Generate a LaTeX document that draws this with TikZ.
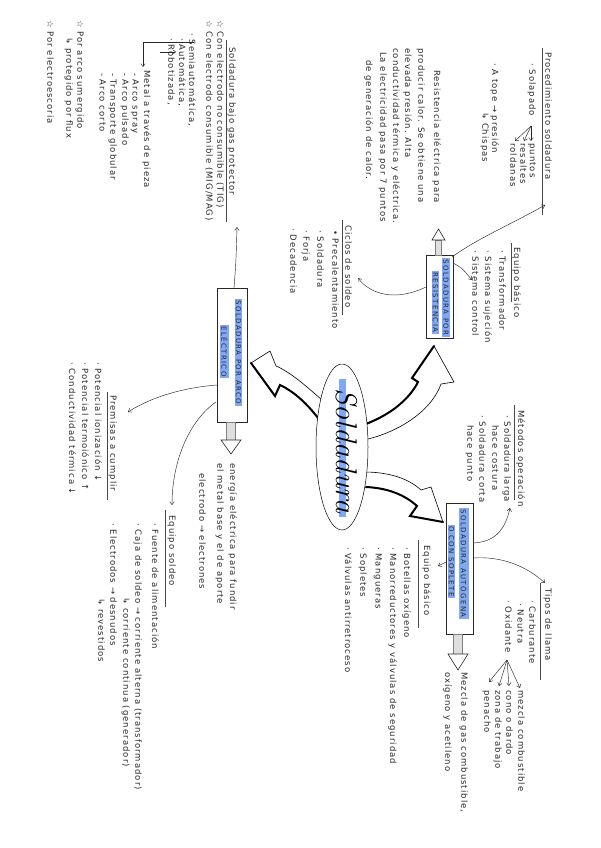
\documentclass[tikz,border=0pt]{standalone}
\usepackage{fontspec}
\newfontfamily\hand{DejaVu Sans}[LetterSpace=12]
\newfontfamily\boxfont{DejaVu Sans}[LetterSpace=20]
\usetikzlibrary{arrows.meta,shapes.geometric}
\definecolor{hl}{RGB}{128,168,245}
\definecolor{ink}{RGB}{40,40,40}
\begin{document}
\begin{tikzpicture}[x=1pt,y=-1pt,
  txt/.style={rotate=-90, anchor=north west, inner sep=0pt, align=left, text=ink, font=\hand\fontsize{8.5}{13.5}\selectfont},
  bx/.style={rotate=-90, inner sep=1.3pt, fill=hl, text=ink, font=\boxfont\fontsize{7}{8}\selectfont},
  boxframe/.style={draw=ink, line width=0.6pt, fill=white, inner sep=0pt},
  con/.style={draw=ink, line width=0.45pt, -{Straight Barb[length=3pt,width=4.5pt]}},
  ul/.style={draw=ink!85, line width=0.5pt},
  bigarrow/.style={draw=black, fill=white, line width=0.6pt, line join=miter},
  bigedge/.style={draw=black, line width=2pt, line join=miter, line cap=round},
  shaft/.style={draw=gray, fill=gray!25, line width=0.5pt},
  hollowhead/.style={draw=ink, fill=white, line width=0.6pt}]
\useasboundingbox (0,0) rectangle (600,848);
\fill[white] (0,0) rectangle (600,848);

% ---------- big curved arrows ----------
\draw[bigarrow] (364,424) .. controls (392,414) and (410,398) .. (418,382) -- (412,378) -- (434,346) -- (454,382) -- (441,384) .. controls (432,410) and (400,432) .. (364,440);
\draw[bigedge] (366,424) .. controls (392,414) and (410,398) .. (418,382) -- (412,378) -- (434,346);
\draw[bigarrow] (322,400) .. controls (305,385) and (290,372) .. (276,366) -- (270,351) -- (251,363) -- (275,396) -- (280,385) .. controls (295,392) and (308,405) .. (320,420);
\draw[bigedge] (251,363) -- (275,396) -- (280,385) .. controls (295,392) and (308,405) .. (318,418);
\draw[bigarrow] (364,472) .. controls (388,472) and (408,478) .. (421,490) -- (431,487) -- (443,522) -- (410,516) -- (417,506) .. controls (405,495) and (388,488) .. (364,487);
\draw[bigedge] (366,487) .. controls (388,488) and (405,495) .. (417,506) -- (410,516) -- (443,522);

% ---------- centre ----------
\node[draw=black, fill=white, ellipse, line width=0.5pt, minimum width=52, minimum height=166, inner sep=0pt] (sol) at (342,447) {};
\node[fill=hl, minimum width=7, minimum height=138, inner sep=0pt] (solbar) at (342.5,448) {};
\node[rotate=-90, inner sep=0pt, font=\fontsize{30}{30}\selectfont\itshape] (soltxt) at (347,451) {Soldadura};

% ---------- boxes ----------
\node[boxframe, minimum width=27, minimum height=83] (res) at (439.5,296.5) {};
\node[bx] (res1) at (446,297.5) {SOLDADURA POR};
\node[bx] (res2) at (435.5,302.5) {RESISTENCIA};
\node[boxframe, minimum width=30, minimum height=134] (arc) at (232,355) {};
\node[bx] (arc1) at (238.5,352.5) {SOLDADURA POR ARCO};
\node[bx] (arc2) at (224.5,351.5) {ELÉCTRICO};
\node[boxframe, minimum width=27, minimum height=131] (aut) at (459.5,568.5) {};
\node[bx] (aut1) at (464,563.5) {SOLDADURA AUTÓGENA};
\node[bx] (aut2) at (451.5,561.5) {O CON SOPLETE};

% small hollow arrows
\draw[shaft] (435.5,255) rectangle (441.5,240);
\draw[hollowhead] (432,240) -- (438.5,229) -- (445,240) -- cycle;
\draw[shaft] (226.5,422) rectangle (235.5,440);
\draw[hollowhead] (221,440) -- (231,454) -- (241,440) -- cycle;
\draw[shaft] (453.5,634) rectangle (462.5,654);
\draw[hollowhead] (448,654) -- (458,670) -- (468,654) -- cycle;

% ---------- Procedimiento soldadura ----------
\node[txt] (pr0) at (552,52) {Procedimiento soldadura};
\draw[ul] (542,48) -- (542,215);
\node[txt] (pr1) at (536,63) {· Solapado};
\node[txt] (pr2) at (536,143) {puntos};
\node[txt] (pr3) at (527,143) {resaltes};
\node[txt] (pr4) at (517,143) {roldanas};
\coordinate (sp) at (531,126);
\draw[con] (sp) -- (531,141);
\draw[con] (sp) -- (524,141);
\draw[con] (sp) -- (515,141);
\node[txt] (pr5) at (499,63) {· A tope → presión};
\node[txt] (pr6) at (489,112) {↳ Chispas};

% ---------- Resistencia text ----------
\node[txt] (rs1) at (441,70) {Resistencia eléctrica para};
\node[txt] (rs2) at (425,48) {producir calor. Se obtiene una};
\node[txt] (rs3) at (412,48) {elevada presión. Alta};
\node[txt] (rs4) at (400,48) {conductividad térmica y eléctrica.};
\node[txt] (rs5) at (387,52) {La electricidad pasa por 7 puntos};
\node[txt] (rs6) at (373,60) {de generación de calor.};

% ---------- Ciclos de soldeo ----------
\node[txt] (ci0) at (352,225) {Ciclos de soldeo};
\draw[ul] (342,220) -- (342,315);
\node[txt] (ci1) at (339,230) {• Precalentamiento};
\node[txt] (ci2) at (324,230) {· Soldadura};
\node[txt] (ci3) at (310,230) {· Forja};
\node[txt] (ci4) at (297,228) {· Decadencia};

% ---------- Equipo básico (resistencia) ----------
\node[txt] (eb0) at (521,247) {Equipo básico};
\draw[ul] (511,243) -- (511,302);
\node[txt] (eb1) at (506,250) {· Transformador};
\node[txt] (eb2) at (492,250) {· Sistema sujeción};
\node[txt] (eb3) at (479,250) {· Sistema control};

% ---------- Métodos operación ----------
\node[txt] (mo0) at (525,410) {Métodos operación};
\draw[ul] (514,405) -- (514,500);
\node[txt] (mo1) at (511,415) {· Soldadura larga};
\node[txt] (mo2) at (499,425) {hace costura};
\node[txt] (mo3) at (486,415) {· Soldadura corta};
\node[txt] (mo4) at (474,425) {hace punto};

% ---------- Soldadura bajo gas protector ----------
\node[txt] (gp0) at (236,47) {Soldadura bajo gas protector};
\draw[ul] (226,40) -- (226,222);
\node[txt] (gp1) at (224,20) {☆ Con electrodo no consumible (TIG)};
\node[txt] (gp2) at (213,20) {☆ Con electrodo consumible (MIG/MAG)};
\node[txt] (gp3) at (196,33) {· Semiautomática,};
\node[txt] (gp4) at (186,38) {· Automática,};
\node[txt] (gp5) at (175,38) {· Robotizada,};
\coordinate (gpa) at (194,42);
\coordinate (gpb) at (143,67);
\draw[con] (gpa) -- (143,42) -- (gpb);
\draw[con] (160,52) -- (176,52);
\node[txt] (gp6) at (151,70) {Metal a través de pieza};
\node[txt] (gp7) at (139,73) {- Arco spray};
\node[txt] (gp8) at (129,73) {- Arco pulsado};
\node[txt] (gp9) at (117,73) {- Transporte globular};
\node[txt] (gp10) at (106,73) {- Arco corto};
\node[txt] (gp11) at (84,20) {☆ Por arco sumergido};
\node[txt] (gp12) at (73,37) {↳ protegido por flux};
\node[txt] (gp13) at (54,20) {☆ Por electroescoria};

% ---------- energía ----------
\node[txt] (en1) at (237,463) {energía eléctrica para fundir};
\node[txt] (en2) at (224,463) {el metal base y el de aporte};
\node[txt] (en3) at (206,473) {electrodo → electrones};

% ---------- Equipo soldeo ----------
\node[txt] (es0) at (176,515) {Equipo soldeo};
\draw[ul] (165,510) -- (165,607);
\node[txt] (es1) at (159,523) {· Fuente de alimentación};
\node[txt] (es2) at (142,523) {· Caja de soldeo → corriente alterna (transformador)};
\node[txt] (es3) at (130,597) {↳ corriente continua (generador)};
\node[txt] (es4) at (117,523) {· Electrodos → desnudos};
\node[txt] (es5) at (105,598) {↳ revestidos};

% ---------- Premisas ----------
\node[txt] (pm0) at (117,395) {Premisas a cumplir};
\draw[ul] (107,392) -- (107,500);
\node[txt] (pm1) at (102,362) {· Potencial ionización ↓};
\node[txt] (pm2) at (89,362) {· Potencial termoiónico ↑};
\node[txt] (pm3) at (76,362) {· Conductividad térmica ↓};

% ---------- Equipo básico (autógena) ----------
\node[txt] (ea0) at (431,545) {Equipo básico};
\draw[ul] (418,540) -- (418,628);
\node[txt] (ea1) at (411,547) {· Botellas oxígeno};
\node[txt] (ea2) at (397,547) {· Manorreductores y válvulas de seguridad};
\node[txt] (ea3) at (382,547) {· Mangueras};
\node[txt] (ea4) at (367,547) {· Sopletes};
\node[txt] (ea5) at (352,547) {· Válvulas antirretroceso};

% ---------- Mezcla ----------
\node[txt] (mz1) at (468,672) {Mezcla de gas combustible,};
\node[txt] (mz2) at (452,672) {oxígeno y acetileno};

% ---------- Tipos de llama ----------
\node[txt] (tl0) at (552,588) {Tipos de llama};
\draw[ul] (540,583) -- (540,680);
\node[txt] (tl1) at (536,600) {· Carburante};
\node[txt] (tl2) at (524,603) {· Neutra};
\node[txt] (tl3) at (512,600) {· Oxidante};
\node[txt] (tl4) at (525,690) {mezcla combustible};
\node[txt] (tl5) at (513,690) {cono o dardo};
\node[txt] (tl6) at (502,690) {zona de trabajo};
\node[txt] (tl7) at (491,690) {penacho};
\coordinate (ox) at (507,660);
\draw[con] (ox) -- (520,688);
\draw[con] (ox) -- (509,686);
\draw[con] (ox) -- (499,686);
\draw[con] (ox) -- (489,682);

% ---------- connectors ----------
\coordinate (c1e) at (545,205);
\draw[con] (452,257) .. controls (478,238) and (512,224) .. (c1e);
\draw[con] (453,263) .. controls (462,268) .. (472,280);
\draw[con] (426,287) .. controls (395,302) and (370,294) .. (358,278);
\draw[con] (234,288) .. controls (236,262) .. (237,227);
\draw[con] (217,385) .. controls (180,388) and (150,398) .. (128,412);
\draw[con] (216,402) .. controls (190,420) and (172,460) .. (172,505);
\draw[con] (473,558) .. controls (500,556) and (525,565) .. (545,583);
\draw[con] (473,543) .. controls (495,542) and (505,530) .. (510,508);
\draw[con] (446,562) -- (438,566);
\end{tikzpicture}
\end{document}
